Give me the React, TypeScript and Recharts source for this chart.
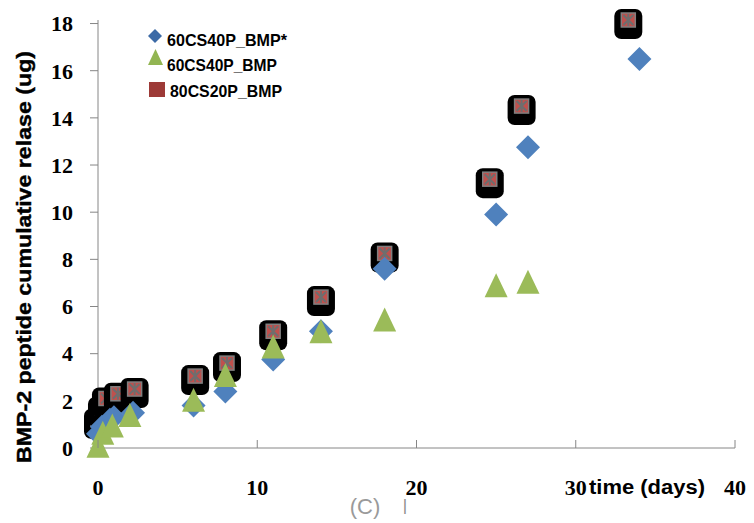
import { ScatterChart, Scatter, XAxis, YAxis } from "recharts";

// cumulative BMP-2 peptide release (ug) against time (days)
const starDays = [0, 0.25, 0.75, 1, 2.2, 6, 8, 11, 14, 18, 25, 27, 34];
const starRelease = [0.6, 0.9, 1.2, 1.3, 1.5, 1.8, 2.4, 3.75, 4.95, 7.6, 9.9, 12.75, 16.5];

const plainDays = [0, 0.3, 0.9, 2, 6, 8, 11, 14, 18, 25, 27];
const plainRelease = [0.1, 0.65, 0.95, 1.4, 2.05, 3.1, 4.3, 4.95, 5.45, 6.9, 7.05];

const cs80Days = [0, 0.25, 0.5, 1.25, 2.3, 6.1, 8.1, 11, 14, 18, 24.6, 26.6, 33.3];
const cs80Release = [1.2, 1.7, 2.1, 2.3, 2.5, 3.05, 3.6, 4.95, 6.4, 8.25, 11.4, 14.5, 18.15];

const xTicks = [0, 10, 20, 30, 40];
const yTicks = [0, 2, 4, 6, 8, 10, 12, 14, 16, 18];

const toPoints = (days: number[], vals: number[]) => days.map((x, i) => ({ x, y: vals[i] }));

const AXIS = "#868686";
const NUM_FONT = "'Liberation Serif', serif";
const LABEL_FONT = "'Liberation Sans', Arial, sans-serif";

function Diamond({ cx, cy }: any) {
  const r = 12;
  return <path d={`M${cx},${cy - r}L${cx + r},${cy}L${cx},${cy + r}L${cx - r},${cy}Z`} fill="#4f81bd" />;
}

function Triangle({ cx, cy }: any) {
  return <path d={`M${cx},${cy - 12}L${cx + 11.5},${cy + 12}L${cx - 11.5},${cy + 12}Z`} fill="#9bbb59" />;
}

function BoxMark({ cx, cy }: any) {
  return (
    <g>
      <rect x={cx - 14} y={cy - 11} width={28} height={30} rx={7} fill="#000" />
      <rect x={cx - 7} y={cy - 7} width={14} height={14} fill="#c0504d" stroke="#7f7f7f" strokeWidth={1.5} />
      <path
        d={`M${cx - 5},${cy - 5}L${cx + 5},${cy + 5}M${cx + 5},${cy - 5}L${cx - 5},${cy + 5}M${cx},${cy - 6}L${cx},${cy + 6}`}
        stroke="#6e6e6e"
        strokeWidth={2}
      />
    </g>
  );
}

function XTick({ x, y, payload }: any) {
  return (
    <g>
      <line x1={x} x2={x} y1={y} y2={y - 8} stroke={AXIS} />
      <text x={x} y={y + 39} dy="0.35em" textAnchor="middle" fontFamily={NUM_FONT} fontWeight="bold" fontSize={22} fill="#000">
        {payload.value}
      </text>
    </g>
  );
}

function Legend() {
  const txt = { fontFamily: LABEL_FONT, fontWeight: "bold" as const, fontSize: 17, fill: "#000" };
  return (
    <g>
      <path d="M155,29L162,36L155,43L148,36Z" fill="#3c6aa6" />
      <text x={167} y={40.5} dy="0.35em" textLength={120} lengthAdjust="spacingAndGlyphs" {...txt}>
        60CS40P_BMP*
      </text>
      <path d="M155.5,49L163,65L148,65Z" fill="#92b552" />
      <text x={167} y={65.5} dy="0.35em" textLength={110} lengthAdjust="spacingAndGlyphs" {...txt}>
        60CS40P_BMP
      </text>
      <rect x={149} y={82} width={16} height={15} fill="#9d3a37" />
      <text x={170} y={91} dy="0.35em" textLength={112} lengthAdjust="spacingAndGlyphs" {...txt}>
        80CS20P_BMP
      </text>
    </g>
  );
}

export default function App() {
  return (
    <div style={{ position: "absolute", left: 0, top: 0, width: 754, height: 523, background: "#fff" }}>
      <ScatterChart width={754} height={523} margin={{ top: 20, right: 19, bottom: 15, left: 0 }}>
        <XAxis
          type="number"
          dataKey="x"
          domain={[0, 40]}
          ticks={xTicks}
          height={60}
          stroke={AXIS}
          tickLine={false}
          tickSize={0}
          tickMargin={0}
          tick={<XTick />}
        />
        <YAxis
          type="number"
          dataKey="y"
          domain={[0, 18.15]}
          ticks={yTicks}
          width={98}
          stroke={AXIS}
          tickSize={8}
          tickMargin={17}
          tick={{ fontFamily: NUM_FONT, fontWeight: "bold", fontSize: 22, fill: "#000" }}
        />
        <Scatter name="80CS20P_BMP" data={toPoints(cs80Days, cs80Release)} shape={<BoxMark />} isAnimationActive={false} />
        <Scatter name="60CS40P_BMP*" data={toPoints(starDays, starRelease)} shape={<Diamond />} isAnimationActive={false} />
        <Scatter name="60CS40P_BMP" data={toPoints(plainDays, plainRelease)} shape={<Triangle />} isAnimationActive={false} />
      </ScatterChart>
      <svg width={754} height={523} style={{ position: "absolute", left: 0, top: 0, pointerEvents: "none" }}>
        <Legend />
        <text
          transform="translate(24,257) rotate(-90)"
          textAnchor="middle"
          dy="0.35em"
          fontFamily={LABEL_FONT}
          fontWeight="bold"
          fontSize={21}
          textLength={412}
          lengthAdjust="spacingAndGlyphs"
          fill="#000"
          stroke="#000"
          strokeWidth={0.4}
        >
          BMP-2 peptide cumulative relase (ug)
        </text>
        <text x={589} y={487} dy="0.35em" fontFamily={LABEL_FONT} fontWeight="bold" fontSize={20} textLength={116} lengthAdjust="spacingAndGlyphs" fill="#000">
          time (days)
        </text>
        <text x={365} y={506} dy="0.35em" textAnchor="middle" fontFamily={LABEL_FONT} fontSize={22} fill="#9a9a9a">
          (C)
        </text>
        <text x={405} y={505} dy="0.35em" textAnchor="middle" fontFamily={LABEL_FONT} fontSize={17} fill="#8c8c8c">
          |
        </text>
      </svg>
    </div>
  );
}
